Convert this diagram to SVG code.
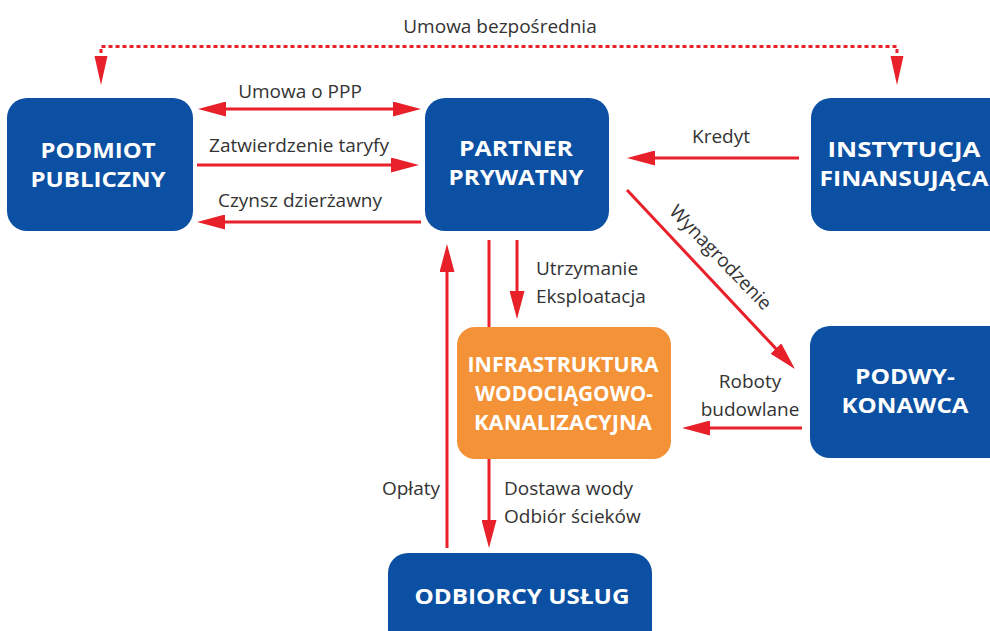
<svg xmlns="http://www.w3.org/2000/svg" width="990" height="631" viewBox="0 0 990 631">
  <style>
    .blue { fill: #0b50a2; }
    .orange { fill: #f39236; }
    .title { font-family: "Open Sans", "Liberation Sans", sans-serif; font-weight: 700; font-size: 22px; fill: #ffffff; text-anchor: middle; }
    .lbl { font-family: "Open Sans", "Liberation Sans", sans-serif; font-size: 19px; fill: #333333; }
    .flow { stroke: #e8202a; stroke-width: 3; fill: none; }
    .dots { stroke: #e8202a; stroke-width: 3; fill: none; stroke-dasharray: 4 3; }
    .head { fill: #e8202a; }
  </style>
  <defs>
    <marker id="arrow" markerUnits="userSpaceOnUse" markerWidth="28" markerHeight="15" refX="8" refY="7.5" orient="auto-start-reverse" viewBox="0 0 28 15">
      <path d="M0,0 L28,7.5 L0,15 z" class="head"/>
    </marker>
  </defs>
  <rect width="990" height="631" fill="#ffffff"/>

  <!-- connectors -->
  <g id="connectors">
    <path class="dots" d="M101,53 V46.5 H897 V53"/>
    <polygon class="head" points="94.5,56 107.5,56 101,85"/>
    <polygon class="head" points="890.5,56 903.5,56 897,85"/>
    <line class="flow" x1="218" y1="109" x2="401" y2="109" marker-start="url(#arrow)" marker-end="url(#arrow)"/>
    <line class="flow" x1="197" y1="165" x2="399" y2="165" marker-end="url(#arrow)"/>
    <line class="flow" x1="421" y1="222" x2="217" y2="222" marker-end="url(#arrow)"/>
    <line class="flow" x1="799" y1="158" x2="647" y2="158" marker-end="url(#arrow)"/>
    <line class="flow" x1="627" y1="190" x2="781.3" y2="354.4" marker-end="url(#arrow)"/>
    <line class="flow" x1="802" y1="428" x2="702" y2="428" marker-end="url(#arrow)"/>
    <line class="flow" x1="517" y1="240" x2="517" y2="299" marker-end="url(#arrow)"/>
    <line class="flow" x1="489" y1="240" x2="489" y2="528" marker-end="url(#arrow)"/>
    <line class="flow" x1="447" y1="548" x2="447" y2="264" marker-end="url(#arrow)"/>
  </g>

  <!-- connector labels -->
  <g id="labels" class="lbl">
    <text x="500" y="33" text-anchor="middle">Umowa bezpośrednia</text>
    <text x="300" y="98" text-anchor="middle">Umowa o PPP</text>
    <text x="299" y="152" text-anchor="middle">Zatwierdzenie taryfy</text>
    <text x="300" y="207" text-anchor="middle">Czynsz dzierżawny</text>
    <text x="721" y="143" text-anchor="middle">Kredyt</text>
    <text transform="translate(721,257) rotate(46)" y="7" text-anchor="middle">Wynagrodzenie</text>
    <text x="536" y="275">Utrzymanie</text>
    <text x="536" y="303">Eksploatacja</text>
    <text x="750" y="388" text-anchor="middle">Roboty</text>
    <text x="750" y="416" text-anchor="middle">budowlane</text>
    <text x="440" y="495" text-anchor="end">Opłaty</text>
    <text x="504" y="495">Dostawa wody</text>
    <text x="504" y="523">Odbiór ścieków</text>
  </g>

  <!-- nodes -->
  <g id="podmiot-publiczny">
    <rect class="blue" x="7" y="98" width="186" height="133" rx="20"/>
    <text class="title" x="98" y="158" textLength="115" lengthAdjust="spacingAndGlyphs">PODMIOT</text>
    <text class="title" x="98" y="187" textLength="135" lengthAdjust="spacingAndGlyphs">PUBLICZNY</text>
  </g>
  <g id="partner-prywatny">
    <rect class="blue" x="425" y="98" width="184" height="133" rx="20"/>
    <text class="title" x="516" y="156" textLength="114" lengthAdjust="spacingAndGlyphs">PARTNER</text>
    <text class="title" x="516" y="185" textLength="135" lengthAdjust="spacingAndGlyphs">PRYWATNY</text>
  </g>
  <g id="instytucja-finansujaca">
    <rect class="blue" x="811" y="98" width="200" height="133" rx="20"/>
    <text class="title" x="904" y="157" textLength="153" lengthAdjust="spacingAndGlyphs">INSTYTUCJA</text>
    <text class="title" x="904" y="186" textLength="169" lengthAdjust="spacingAndGlyphs">FINANSUJĄCA</text>
  </g>
  <g id="podwykonawca">
    <rect class="blue" x="810" y="326" width="200" height="132" rx="20"/>
    <text class="title" x="905" y="384" textLength="100" lengthAdjust="spacingAndGlyphs">PODWY-</text>
    <text class="title" x="905" y="413" textLength="127" lengthAdjust="spacingAndGlyphs">KONAWCA</text>
  </g>
  <g id="infrastruktura">
    <rect class="orange" x="457" y="327" width="214" height="132" rx="18"/>
    <text class="title" x="563" y="372" textLength="191" lengthAdjust="spacingAndGlyphs">INFRASTRUKTURA</text>
    <text class="title" x="564" y="401" textLength="178" lengthAdjust="spacingAndGlyphs">WODOCIĄGOWO-</text>
    <text class="title" x="563" y="430" textLength="178" lengthAdjust="spacingAndGlyphs">KANALIZACYJNA</text>
  </g>
  <g id="odbiorcy-uslug">
    <rect class="blue" x="388" y="553" width="264" height="100" rx="20"/>
    <text class="title" x="522" y="604" textLength="215" lengthAdjust="spacingAndGlyphs">ODBIORCY USŁUG</text>
  </g>
</svg>
